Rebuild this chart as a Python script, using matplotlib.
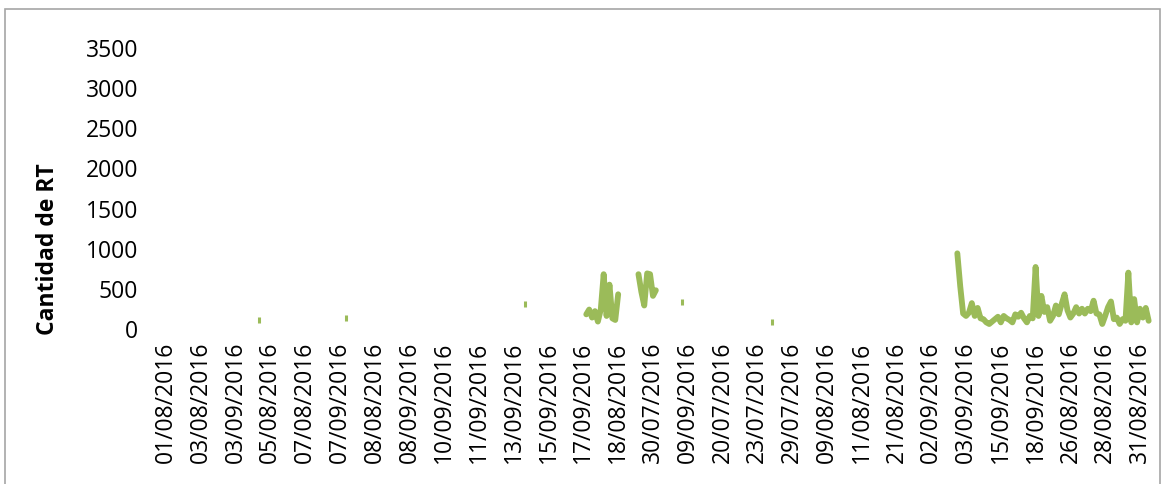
import numpy as np
import matplotlib
matplotlib.use("Agg")
import matplotlib.pyplot as plt
from matplotlib.patches import Rectangle

# Data: one value per day (category), NaN where there is no data
n_cat = 341
label_step = 12

tick_labels = [
    "01/08/2016", "03/08/2016", "03/09/2016", "05/08/2016", "07/08/2016",
    "07/09/2016", "08/08/2016", "08/09/2016", "10/09/2016", "11/09/2016",
    "13/09/2016", "15/09/2016", "17/09/2016", "18/08/2016", "30/07/2016",
    "09/09/2016", "20/07/2016", "23/07/2016", "29/07/2016", "09/08/2016",
    "11/08/2016", "21/08/2016", "02/09/2016", "03/09/2016", "15/09/2016",
    "18/09/2016", "26/08/2016", "28/08/2016", "31/08/2016",
]

# isolated single days
single_idx = [32, 62, 124, 178, 209]
single_val = [100, 130, 300, 330, 80]

# first block
block1_start = 145
block1_val = [170, 230, 130, 210, 80, 230, 670, 150, 540, 120, 100, 420]

# second block
block2_start = 163
block2_val = [670, 450, 280, 680, 670, 400, 470]

# last block
block3_start = 273
block3_val = [
    930, 520, 180, 150, 190, 310, 150, 250, 120, 110,
    70, 50, 80, 110, 140, 70, 150, 120, 100, 70,
    170, 140, 190, 120, 70, 150, 120, 760, 150, 400,
    200, 260, 90, 150, 280, 170, 300, 420, 220, 130,
    180, 260, 180, 240, 180, 240, 210, 340, 180, 170,
    50, 150, 260, 330, 110, 130, 50, 110, 90, 690,
    70, 360, 70, 240, 130, 250, 90,
]

values = np.full(n_cat, np.nan)
values[single_idx] = single_val
values[block1_start:block1_start + len(block1_val)] = block1_val
values[block2_start:block2_start + len(block2_val)] = block2_val
values[block3_start:block3_start + len(block3_val)] = block3_val

x = np.arange(n_cat)

# points with no neighbours would not show as a line
prev_nan = np.isnan(np.concatenate(([np.nan], values[:-1])))
next_nan = np.isnan(np.concatenate((values[1:], [np.nan])))
lonely = ~np.isnan(values) & prev_nan & next_nan

W, H = 1169, 485
fig = plt.figure(figsize=(W / 100, H / 100), dpi=100)
plt.rcParams["font.family"] = ["Open Sans", "DejaVu Sans"]

left, right = 164.5, 1153.0
top, bottom = 48, 329
ax = fig.add_axes([left / W, 1 - bottom / H, (right - left) / W, (bottom - top) / H])

green = "#9BBB59"
ax.plot(x, values, color=green, linewidth=4.2, solid_capstyle="round",
        solid_joinstyle="round")
ax.plot(x[lonely], values[lonely], linestyle="none", marker="|",
        markersize=4.8, markeredgewidth=2.2, color=green)

ax.set_xlim(-0.5, n_cat - 0.5)
ax.set_ylim(0, 3500)
ax.set_yticks(np.arange(0, 3501, 500))
ax.set_xticks(np.arange(0, len(tick_labels) * label_step, label_step))
ax.set_xticklabels(tick_labels, rotation=90, va="top", ha="center")

for s in ax.spines.values():
    s.set_visible(False)
ax.tick_params(axis="both", length=0, labelsize=16.5, colors="black")
ax.tick_params(axis="y", pad=19)
ax.tick_params(axis="x", pad=9)

ax.set_ylabel("Cantidad de RT", fontsize=16.5, fontweight="bold")
ax.yaxis.set_label_coords(-(left - 60) / (right - left), (bottom - 249) / (bottom - top))

# chart border (cut off at the bottom)
fig.patches.append(Rectangle((5 / W, -0.1), (1160 - 5) / W, 1.1 - 10 / H,
                             transform=fig.transFigure, fill=False,
                             edgecolor="#A6A6A6", linewidth=1.2))

fig.savefig("out.png", dpi=100)
